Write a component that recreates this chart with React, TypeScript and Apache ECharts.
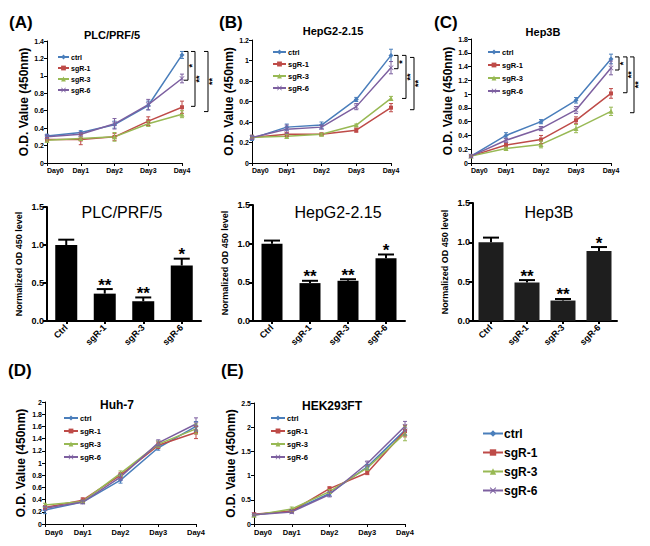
import React, { useEffect, useRef } from "react";
import * as echarts from "echarts";

const days = ["Day0", "Day1", "Day2", "Day3", "Day4"];
const groups = ["ctrl", "sgR-1", "sgR-3", "sgR-6"];
const barCategories = ["Ctrl", "sgR-1", "sgR-3", "sgR-6"];
const yName = "O.D. Value (450nm)";
const barYName = "Normalized OD 450 level";

// (A) PLC/PRF/5 growth curves, order: ctrl, sgR-1, sgR-3, sgR-6
const plcMeans = [
  [0.31, 0.35, 0.44, 0.66, 1.24],
  [0.27, 0.27, 0.30, 0.48, 0.64],
  [0.26, 0.28, 0.30, 0.45, 0.56],
  [0.30, 0.33, 0.45, 0.67, 0.97],
];
const plcErrors = [
  [0.02, 0.02, 0.04, 0.05, 0.04],
  [0.02, 0.06, 0.04, 0.05, 0.07],
  [0.02, 0.02, 0.05, 0.03, 0.04],
  [0.02, 0.02, 0.06, 0.06, 0.05],
];
const plcBracketTop = [1.28, 1.28, 1.28];
const plcBracketBottom = [0.95, 0.65, 0.59];
const plcBracketMarks = ["*", "**", "**"];

// (B) HepG2-2.15
const hepg2Means = [
  [0.24, 0.35, 0.37, 0.62, 1.05],
  [0.25, 0.28, 0.28, 0.32, 0.54],
  [0.25, 0.26, 0.28, 0.37, 0.63],
  [0.25, 0.33, 0.35, 0.55, 0.93],
];
const hepg2Errors = [
  [0.02, 0.03, 0.03, 0.02, 0.06],
  [0.02, 0.02, 0.01, 0.02, 0.04],
  [0.02, 0.02, 0.01, 0.01, 0.02],
  [0.02, 0.04, 0.02, 0.03, 0.06],
];
const hepg2BracketTop = [1.05, 1.05, 1.03];
const hepg2BracketBottom = [0.92, 0.63, 0.52];
const hepg2BracketMarks = ["*", "**", "**"];

// (C) Hep3B
const hep3bMeans = [
  [0.10, 0.40, 0.60, 0.91, 1.51],
  [0.10, 0.26, 0.34, 0.62, 1.01],
  [0.10, 0.21, 0.27, 0.50, 0.75],
  [0.10, 0.33, 0.50, 0.77, 1.38],
];
const hep3bErrors = [
  [0.02, 0.04, 0.03, 0.04, 0.07],
  [0.02, 0.03, 0.06, 0.05, 0.07],
  [0.02, 0.02, 0.05, 0.06, 0.06],
  [0.02, 0.03, 0.03, 0.05, 0.10],
];
const hep3bBracketTop = [1.54, 1.54, 1.54];
const hep3bBracketBottom = [1.35, 1.02, 0.73];
const hep3bBracketMarks = ["*", "**", "**"];

// (D) Huh-7
const huh7Means = [
  [0.23, 0.36, 0.72, 1.25, 1.60],
  [0.27, 0.39, 0.80, 1.29, 1.50],
  [0.31, 0.37, 0.83, 1.31, 1.56],
  [0.26, 0.36, 0.77, 1.33, 1.64],
];
const huh7Errors = [
  [0.06, 0.02, 0.05, 0.04, 0.08],
  [0.03, 0.04, 0.04, 0.05, 0.10],
  [0.03, 0.02, 0.04, 0.05, 0.08],
  [0.03, 0.03, 0.05, 0.05, 0.10],
];

// (E) HEK293FT
const hekMeans = [
  [0.19, 0.27, 0.63, 1.18, 1.94],
  [0.20, 0.27, 0.73, 1.06, 1.92],
  [0.18, 0.31, 0.67, 1.16, 1.87],
  [0.19, 0.25, 0.61, 1.25, 2.02],
];
const hekErrors = [
  [0.02, 0.03, 0.05, 0.05, 0.10],
  [0.02, 0.02, 0.04, 0.04, 0.12],
  [0.02, 0.04, 0.04, 0.05, 0.15],
  [0.02, 0.03, 0.05, 0.05, 0.10],
];

// Normalized OD450 bar charts
const plcBarValues = [1.0, 0.36, 0.26, 0.73];
const plcBarErrors = [0.07, 0.06, 0.05, 0.09];
const hepg2BarValues = [1.0, 0.49, 0.52, 0.81];
const hepg2BarErrors = [0.04, 0.03, 0.02, 0.05];
const hep3bBarValues = [1.0, 0.49, 0.26, 0.89];
const hep3bBarErrors = [0.06, 0.03, 0.02, 0.05];
const barMarks = ["", "**", "**", "*"];

const FONT = 'Arial, "Liberation Sans", Helvetica, sans-serif';
const COLORS = ["#4A7EBB", "#BE4B48", "#98B954", "#7D60A0"];
const SYMBOLS = [
  "diamond",
  "rect",
  "triangle",
  "path://M0,1L1,0L5,4L9,0L10,1L6,5L10,9L9,10L5,6L1,10L0,9L4,5Z",
];
const SYMBOL_SIZES = [5, 4, 5, 5];

const linePanels = [
  {
    title: "PLC/PRF/5", means: plcMeans, errs: plcErrors,
    bTop: plcBracketTop, bBottom: plcBracketBottom, bMarks: plcBracketMarks,
    grid: { left: 47, top: 41, width: 135, height: 122 }, max: 1.4, interval: 0.2,
    nameGap: 14, titleXY: [112, 35], titleSize: 11, labelSize: 7,
    legend: { left: 57, top: 53, itemGap: 3, itemWidth: 11, fontSize: 7 },
    bOffsets: [6, 13, 26],
  },
  {
    title: "HepG2-2.15", means: hepg2Means, errs: hepg2Errors,
    bTop: hepg2BracketTop, bBottom: hepg2BracketBottom, bMarks: hepg2BracketMarks,
    grid: { left: 252, top: 40, width: 139, height: 123 }, max: 1.2, interval: 0.2,
    nameGap: 14, titleXY: [333, 31], titleSize: 11, labelSize: 7,
    legend: { left: 272, top: 48, itemGap: 4, itemWidth: 13, fontSize: 7.5 },
    bOffsets: [7, 15, 23],
  },
  {
    title: "Hep3B", means: hep3bMeans, errs: hep3bErrors,
    bTop: hep3bBracketTop, bBottom: hep3bBracketBottom, bMarks: hep3bBracketMarks,
    grid: { left: 471, top: 39, width: 140, height: 124 }, max: 1.8, interval: 0.2,
    nameGap: 14, titleXY: [543, 32], titleSize: 11, labelSize: 7,
    legend: { left: 487, top: 48, itemGap: 5, itemWidth: 12, fontSize: 7.5 },
    bOffsets: [8, 16, 23],
  },
  {
    title: "Huh-7", means: huh7Means, errs: huh7Errors,
    bTop: [], bBottom: [], bMarks: [],
    grid: { left: 45, top: 402, width: 151, height: 122 }, max: 2, interval: 0.2,
    nameGap: 18, titleXY: [117, 405], titleSize: 12, labelSize: 7.5,
    legend: { left: 63, top: 414, itemGap: 5, itemWidth: 14, fontSize: 7.5 },
    bOffsets: [],
  },
  {
    title: "HEK293FT", means: hekMeans, errs: hekErrors,
    bTop: [], bBottom: [], bMarks: [],
    grid: { left: 254, top: 403, width: 151, height: 121 }, max: 2.5, interval: 0.5,
    nameGap: 14, titleXY: [332, 406], titleSize: 12, labelSize: 7.5,
    legend: { left: 270, top: 414, itemGap: 5, itemWidth: 14, fontSize: 7.5 },
    bOffsets: [],
  },
];

const barPanels = [
  {
    title: "PLC/PRF/5", values: plcBarValues, errs: plcBarErrors, color: "#000000",
    grid: { left: 47, top: 207, width: 154, height: 114 }, barWidth: 22, titleXY: [122, 212],
  },
  {
    title: "HepG2-2.15", values: hepg2BarValues, errs: hepg2BarErrors, color: "#000000",
    grid: { left: 253, top: 205, width: 152, height: 116 }, barWidth: 21, titleXY: [338, 212],
  },
  {
    title: "Hep3B", values: hep3bBarValues, errs: hep3bBarErrors, color: "#1e1e1e",
    grid: { left: 473, top: 203, width: 144, height: 118 }, barWidth: 25, titleXY: [549, 212],
  },
];

const panelLabels = [
  { text: "(A)", x: 9, y: 22 },
  { text: "(B)", x: 219, y: 22 },
  { text: "(C)", x: 434, y: 22 },
  { text: "(D)", x: 8, y: 370 },
  { text: "(E)", x: 221, y: 370 },
];

function lineErrorRender(params: any, api: any) {
  const x = api.value(0);
  const v = api.value(1);
  const e = api.value(2);
  const top = api.coord([x, v + e]);
  const bot = api.coord([x, v - e]);
  const color = api.visual("color");
  const style = { stroke: color, lineWidth: 1 };
  return {
    type: "group",
    children: [
      { type: "line", shape: { x1: top[0], y1: top[1], x2: bot[0], y2: bot[1] }, style },
      { type: "line", shape: { x1: top[0] - 2, y1: top[1], x2: top[0] + 2, y2: top[1] }, style },
      { type: "line", shape: { x1: bot[0] - 2, y1: bot[1], x2: bot[0] + 2, y2: bot[1] }, style },
    ],
  };
}

function makeBracketRender(offsets: number[], marks: string[]) {
  return (params: any, api: any) => {
    const i = params.dataIndex;
    const x = api.value(0);
    const p1 = api.coord([x, api.value(1)]);
    const p2 = api.coord([x, api.value(2)]);
    const bx = p1[0] + offsets[i];
    return {
      type: "group",
      children: [
        {
          type: "polyline",
          shape: { points: [[bx - 4, p1[1]], [bx, p1[1]], [bx, p2[1]], [bx - 4, p2[1]]] },
          style: { stroke: "#000", lineWidth: 1, fill: null },
        },
        {
          type: "text",
          x: bx + 4,
          y: (p1[1] + p2[1]) / 2,
          rotation: Math.PI / 2,
          style: {
            text: marks[i], fill: "#000", font: `bold 9px ${FONT}`,
            align: "center", verticalAlign: "middle",
          },
        },
      ],
    };
  };
}

function barErrorRender(params: any, api: any) {
  const i = params.dataIndex;
  const x = api.value(0);
  const v = api.value(1);
  const e = api.value(2);
  const top = api.coord([x, v + e]);
  const base = api.coord([x, v]);
  const style = { stroke: "#000", lineWidth: 2 };
  const children: any[] = [
    { type: "line", shape: { x1: top[0], y1: top[1], x2: base[0], y2: base[1] }, style },
    { type: "line", shape: { x1: top[0] - 8, y1: top[1], x2: top[0] + 8, y2: top[1] }, style },
  ];
  if (barMarks[i]) {
    children.push({
      type: "text",
      x: top[0],
      y: top[1] - 4,
      style: {
        text: barMarks[i], fill: "#000", font: `bold 17px ${FONT}`,
        align: "center", verticalAlign: "middle",
      },
    });
  }
  return { type: "group", children };
}

function buildOption() {
  const grid: any[] = [];
  const xAxis: any[] = [];
  const yAxis: any[] = [];
  const series: any[] = [];
  const legend: any[] = [];
  const graphic: any[] = [];

  linePanels.forEach((p, pi) => {
    grid.push({ ...p.grid });
    xAxis.push({
      type: "category", gridIndex: pi, data: days, boundaryGap: false,
      axisLine: { lineStyle: { color: "#000", width: 1 } },
      axisTick: { show: true, length: 3, lineStyle: { color: "#000" } },
      axisLabel: {
        fontSize: p.labelSize, fontWeight: "bold", color: "#000", fontFamily: FONT,
        margin: 4, alignMinLabel: "left",
      },
    });
    yAxis.push({
      type: "value", gridIndex: pi, min: 0, max: p.max, interval: p.interval,
      axisLine: { show: true, lineStyle: { color: "#000", width: 1 } },
      axisTick: { show: true, length: 3, lineStyle: { color: "#000" } },
      splitLine: { show: false },
      axisLabel: { fontSize: 7, fontWeight: "bold", color: "#000", fontFamily: FONT, margin: 3 },
      name: yName, nameLocation: "middle", nameGap: p.nameGap, nameRotate: 90,
      nameTextStyle: { fontSize: 12, fontWeight: "bold", color: "#000", fontFamily: FONT },
    });
    groups.forEach((g, gi) => {
      series.push({
        type: "line", name: g, xAxisIndex: pi, yAxisIndex: pi,
        data: p.means[gi], symbol: SYMBOLS[gi], symbolSize: SYMBOL_SIZES[gi],
        lineStyle: { color: COLORS[gi], width: 1.5 }, itemStyle: { color: COLORS[gi] },
        z: 3, silent: true,
      });
      series.push({
        type: "custom", name: g + " error", xAxisIndex: pi, yAxisIndex: pi,
        data: p.means[gi].map((v, i) => [i, v, p.errs[gi][i]]),
        encode: { x: 0, y: 1 }, renderItem: lineErrorRender,
        itemStyle: { color: COLORS[gi] }, z: 4, silent: true, clip: false,
      });
    });
    if (p.bTop.length) {
      series.push({
        type: "custom", name: "significance " + pi, xAxisIndex: pi, yAxisIndex: pi,
        data: p.bTop.map((t, k) => [days.length - 1, t, p.bBottom[k]]),
        encode: { x: 0, y: [1, 2] },
        renderItem: makeBracketRender(p.bOffsets, p.bMarks), z: 5, silent: true, clip: false,
      });
    }
    legend.push({
      orient: "vertical", left: p.legend.left, top: p.legend.top, padding: 0,
      itemWidth: p.legend.itemWidth, itemHeight: 6, itemGap: p.legend.itemGap,
      data: groups, selectedMode: false,
      textStyle: {
        fontSize: p.legend.fontSize, fontWeight: "bold", color: "#000",
        fontFamily: FONT, lineHeight: 8, padding: [0, 0, 0, -3],
      },
    });
    graphic.push({
      type: "text", x: p.titleXY[0], y: p.titleXY[1],
      style: {
        text: p.title, fill: "#000", font: `bold ${p.titleSize}px ${FONT}`,
        align: "center", verticalAlign: "middle",
      },
    });
  });

  barPanels.forEach((b, bi) => {
    const gi = linePanels.length + bi;
    grid.push({ ...b.grid });
    xAxis.push({
      type: "category", gridIndex: gi, data: barCategories,
      axisLine: { lineStyle: { color: "#000", width: 2 } },
      axisTick: { show: true, alignWithLabel: true, length: 3, lineStyle: { color: "#000", width: 2 } },
      axisLabel: {
        rotate: 45, fontSize: 9, fontWeight: "bold", color: "#000", fontFamily: FONT, margin: 5,
      },
    });
    yAxis.push({
      type: "value", gridIndex: gi, min: 0, max: 1.5, interval: 0.5,
      axisLine: { show: true, lineStyle: { color: "#000", width: 2 } },
      axisTick: { show: true, length: 4, lineStyle: { color: "#000", width: 2 } },
      splitLine: { show: false },
      axisLabel: {
        fontSize: 9, fontWeight: "bold", color: "#000", fontFamily: FONT, margin: 3,
        formatter: (v: number) => v.toFixed(1),
      },
      name: barYName, nameLocation: "middle", nameGap: 24, nameRotate: 90,
      nameTextStyle: { fontSize: 9, fontWeight: "bold", color: "#000", fontFamily: FONT },
    });
    series.push({
      type: "bar", name: "bar " + bi, xAxisIndex: gi, yAxisIndex: gi,
      data: b.values, barWidth: b.barWidth, itemStyle: { color: b.color }, silent: true,
    });
    series.push({
      type: "custom", name: "bar error " + bi, xAxisIndex: gi, yAxisIndex: gi,
      data: b.values.map((v, i) => [i, v, b.errs[i]]),
      encode: { x: 0, y: 1 }, renderItem: barErrorRender, z: 5, silent: true, clip: false,
    });
    graphic.push({
      type: "text", x: b.titleXY[0], y: b.titleXY[1],
      style: {
        text: b.title, fill: "#000", font: `16px ${FONT}`,
        align: "center", verticalAlign: "middle",
      },
    });
  });

  legend.push({
    orient: "vertical", left: 482, top: 427, padding: 0,
    itemWidth: 20, itemHeight: 8, itemGap: 6, data: groups, selectedMode: false,
    textStyle: {
      fontSize: 12, fontWeight: "bold", color: "#000", fontFamily: FONT, lineHeight: 13,
      padding: [0, 0, 0, -4],
    },
  });

  panelLabels.forEach((l) => {
    graphic.push({
      type: "text", x: l.x, y: l.y,
      style: {
        text: l.text, fill: "#000", font: `bold 17px ${FONT}`,
        align: "left", verticalAlign: "middle",
      },
    });
  });

  return {
    animation: false,
    backgroundColor: "#ffffff",
    textStyle: { fontFamily: FONT },
    grid, xAxis, yAxis, series, legend, graphic,
  };
}

export default function App() {
  const ref = useRef<HTMLDivElement>(null);
  useEffect(() => {
    if (!ref.current) return;
    const chart = echarts.init(ref.current, undefined, { renderer: "svg" });
    chart.setOption(buildOption() as any);
    return () => chart.dispose();
  }, []);
  return (
    <div
      ref={ref}
      style={{ position: "absolute", left: 0, top: 0, width: 650, height: 546, background: "#fff" }}
    />
  );
}
